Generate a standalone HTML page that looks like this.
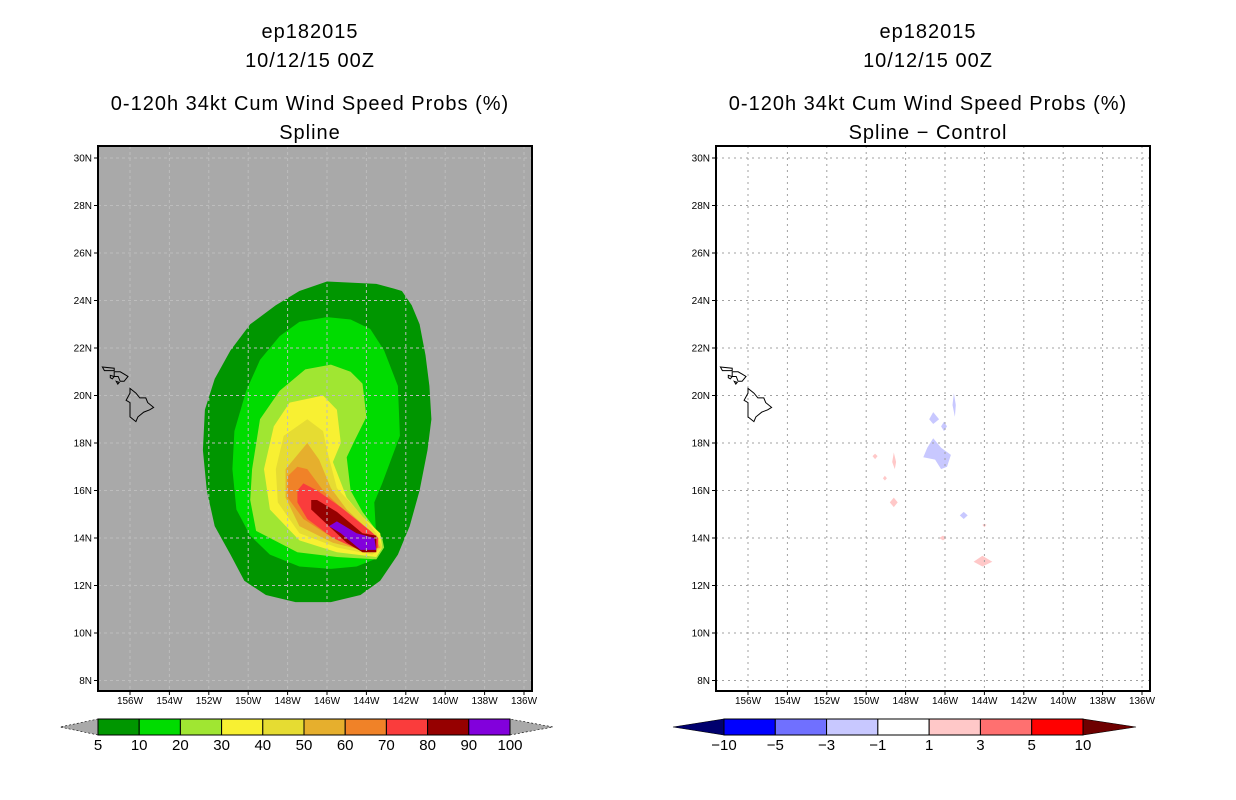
<!DOCTYPE html>
<html><head><meta charset="utf-8"><style>
html,body{margin:0;padding:0;background:#fff;}
svg{display:block;font-family:"Liberation Sans",sans-serif;}
</style></head><body>
<svg id="root" width="1236" height="800" viewBox="0 0 1236 800">
<rect x="0" y="0" width="1236" height="800" fill="#fff"/>
</svg>
<script>
const levels=[5,10,20,30,40,50,60,70,80,90,100];
const levelColors=["#009600","#00dc00","#a0e632","#f8f032","#e6dc32","#e6af2d","#f08228","#fa3c3c","#960000","#8200dc"];
const diffLabels=["-10","-5","-3","-1","1","3","5","10"];
const diffColors=["#0000ff","#7070ff","#c8c8ff","#ffffff","#ffc8c8","#ff7070","#ff0000"];
const latTicks=[8,10,12,14,16,18,20,22,24,26,28,30];
const lonTicks=[156,154,152,150,148,146,144,142,140,138,136];
// probability contours [lonW,latN]
const p5=[[146.0,24.8],[143.5,24.7],[142.6,24.5],[142.2,24.4],[141.7,23.8],[141.3,23.0],[141.0,21.7],[140.8,20.4],[140.7,19.0],[140.9,17.7],[141.3,16.0],[141.8,14.5],[142.4,13.3],[143.3,12.2],[144.3,11.6],[145.8,11.3],[147.6,11.3],[149.1,11.6],[150.2,12.2],[150.9,13.3],[151.7,14.5],[152.1,16.0],[152.3,17.7],[152.2,19.4],[151.7,20.7],[150.9,21.9],[149.9,23.0],[148.6,23.8],[147.4,24.4]];
const p10=[[146.0,23.3],[144.8,23.2],[143.8,22.8],[143.1,21.9],[142.4,20.4],[142.3,18.3],[143.2,16.3],[143.6,15.5],[143.5,14.0],[143.2,13.6],[143.6,13.1],[144.5,12.8],[145.8,12.7],[147.4,12.8],[148.9,13.3],[149.9,14.1],[150.6,15.2],[150.8,16.9],[150.7,18.5],[150.1,20.2],[149.4,21.5],[148.4,22.5],[147.4,23.1]];
const p20=[[145.8,21.3],[144.8,21.0],[144.2,20.5],[144.0,19.1],[144.6,18.1],[145.0,17.4],[144.8,16.0],[144.2,15.1],[143.2,14.0],[143.1,13.6],[143.5,13.1],[145.5,13.2],[147.5,13.4],[149.6,14.3],[149.9,15.6],[149.8,16.9],[149.4,19.0],[148.4,20.2],[147.1,21.1]];
const p30=[[146.2,20.0],[145.5,19.4],[145.3,18.0],[145.7,17.2],[145.0,15.7],[144.2,14.9],[143.3,14.2],[143.2,13.6],[143.5,13.2],[145.5,13.4],[147.4,13.9],[148.9,15.2],[149.2,16.9],[148.7,18.7],[147.9,19.7]];
const p40=[[147.0,19.0],[146.2,18.5],[146.0,17.7],[145.5,16.1],[144.5,15.2],[143.5,14.2],[143.2,13.6],[143.7,13.3],[145.5,13.6],[147.4,14.2],[148.5,15.5],[148.6,16.9],[148.2,18.3]];
const p50=[[147.0,18.0],[146.4,17.3],[145.8,16.1],[145.0,15.2],[143.7,14.2],[143.3,13.6],[143.8,13.4],[145.7,13.8],[147.4,14.5],[148.1,15.7],[148.1,16.9]];
const p60=[[147.5,17.0],[147.0,16.9],[146.2,16.0],[145.2,15.2],[143.7,14.2],[143.4,13.6],[144.0,13.4],[145.7,14.0],[147.2,14.8],[148.0,15.7],[148.0,16.6]];
const p70=[[147.2,16.3],[146.5,16.0],[145.3,15.3],[143.8,14.3],[143.4,14.0],[143.4,13.6],[144.1,13.4],[145.7,14.0],[147.0,14.8],[147.5,15.5],[147.5,16.0]];
const p80=[[146.8,15.6],[146.5,15.6],[145.5,15.1],[144.2,14.2],[143.5,14.1],[143.5,13.4],[144.2,13.4],[145.0,13.8],[146.8,15.2]];
const p90=[[145.9,14.5],[145.5,14.7],[144.5,14.2],[143.6,14.0],[143.5,13.5],[144.3,13.5],[145.3,14.2]];
const probContours=[p5,p10,p20,p30,p40,p50,p60,p70,p80,p90];
// difference blobs
const negBlobs=[
 [[146.6,18.2],[146.2,17.8],[145.7,17.5],[145.9,17.0],[146.2,16.9],[146.5,17.3],[147.1,17.4],[146.9,17.8]],
 [[146.6,19.3],[146.3,19.0],[146.6,18.8],[146.8,19.0]],
 [[146.05,18.9],[145.9,18.7],[146.05,18.5],[146.2,18.7]],
 [[145.55,20.1],[145.45,19.6],[145.5,19.1],[145.62,19.6]],
 [[145.05,15.1],[144.85,14.95],[145.05,14.8],[145.25,14.95]]];
const posBlobs=[
 [[149.55,17.55],[149.42,17.45],[149.55,17.32],[149.68,17.45]],
 [[148.6,17.6],[148.48,17.2],[148.55,16.9],[148.68,17.2]],
 [[149.05,16.62],[148.95,16.52],[149.05,16.42],[149.15,16.52]],
 [[148.6,15.7],[148.4,15.5],[148.6,15.3],[148.8,15.5]],
 [[146.1,14.1],[145.92,14.0],[146.1,13.9],[146.3,14.0]],
 [[144.0,14.6],[143.9,14.55],[144.0,14.45],[144.1,14.55]],
 [[144.1,13.25],[143.6,13.0],[144.1,12.8],[144.55,13.0]]];
const bigIsland=[[156.0,20.3],[155.7,20.1],[155.5,19.9],[155.2,19.9],[155.1,19.7],[154.8,19.5],[155.0,19.4],[155.3,19.3],[155.6,19.1],[155.7,18.9],[156.0,19.1],[156.0,19.7],[156.2,19.8],[156.0,20.1]];
const maui=[[156.8,21.0],[156.5,21.0],[156.3,20.9],[156.1,20.8],[156.3,20.6],[156.5,20.6],[156.6,20.8],[156.8,20.8]];
const molokai=[[157.4,21.2],[156.8,21.15],[156.8,21.05],[157.3,21.05]];
const lanai=[[157.0,20.85],[156.8,20.8],[156.9,20.7],[157.0,20.75]];
const kahoolawe=[[156.7,20.6],[156.55,20.55],[156.62,20.48]];
const islands=[bigIsland,maui,molokai,lanai,kahoolawe];

const NS="http://www.w3.org/2000/svg";
const root=document.getElementById('root');
function mk(tag,attrs,parent){const e=document.createElementNS(NS,tag);for(const k in attrs)e.setAttribute(k,attrs[k]);(parent||root).appendChild(e);return e;}
const frameTop=146,frameBot=691,frameW=434;
function yOf(lat){return 158+(30-lat)*23.75;}
function makeX(off){return lon=>off+327+(146-lon)*19.7;}
function pts(poly,xf){return poly.map(p=>xf(p[0]).toFixed(1)+","+yOf(p[1]).toFixed(1)).join(" ");}

function panel(off,left,name){
 const xf=makeX(off);const x0=98+off;
 const g=mk('g',{});
 
 
 const bg=mk('rect',{x:x0,y:frameTop,width:frameW,height:frameBot-frameTop,fill:left?'#a9a9a9':'#fff'},g);
 
 
 if(left){
  probContours.forEach((poly,i)=>{const p=mk('polygon',{points:pts(poly,xf),fill:levelColors[i]},g);
   
   });
 } else {
  negBlobs.forEach(poly=>{const p=mk('polygon',{points:pts(poly,xf),fill:'#c8c8ff'},g);
   
   });
  posBlobs.forEach(poly=>{const p=mk('polygon',{points:pts(poly,xf),fill:'#ffc8c8'},g);
   
   });
 }
 const gc=left?'#bdbdbd':'#a0a0a0';const da=left?'3,3':'2,4';
 latTicks.forEach(l=>{const y=yOf(l);
  const gl=mk('line',{x1:x0,x2:x0+frameW,y1:y,y2:y,stroke:gc,'stroke-width':1,'stroke-dasharray':da},g);
  
  
  mk('line',{x1:x0-4,x2:x0,y1:y,y2:y,stroke:'#000','stroke-width':1},g);
  const t=mk('text',{x:x0-6,y:y+3.5,'font-size':10,'text-anchor':'end',fill:'#000'},g);t.textContent=l+'N';
  
  });
 lonTicks.forEach(l=>{const x=xf(l);
  const gl=mk('line',{x1:x,x2:x,y1:frameTop,y2:frameBot,stroke:gc,'stroke-width':1,'stroke-dasharray':da},g);
  
  
  mk('line',{x1:x,x2:x,y1:frameBot,y2:frameBot+4,stroke:'#000','stroke-width':1},g);
  const t=mk('text',{x:x,y:frameBot+13,'font-size':10,'text-anchor':'middle',fill:'#000'},g);t.textContent=l+'W';
  
  });
 islands.forEach(poly=>{const p=mk('polygon',{points:pts(poly,xf),fill:'none',stroke:'#000','stroke-width':1},g);
  
  });
 const fr=mk('rect',{x:x0,y:frameTop,width:frameW,height:frameBot-frameTop,fill:'none',stroke:'#000','stroke-width':2},g);
 
 
}
panel(0,true,'spline-probability-map');
panel(618,false,'spline-minus-control-map');

function titles(cx,sub,name){
 const lines=[['ep182015',38],['10/12/15 00Z',67],['0-120h 34kt Cum Wind Speed Probs (%)',110],[sub,139]];
 lines.forEach((l,i)=>{const t=mk('text',{x:cx,y:l[1],'font-size':20,'text-anchor':'middle',fill:'#000','letter-spacing':'1'});
  t.textContent=l[0];
  
  });
}
titles(310,'Spline','left');
titles(928,'Spline \u2212 Control','right');

// left colorbar
(function(){const x0=98,x1=510,y0=719,y1=735,w=(x1-x0)/levelColors.length;
 const lt=mk('polygon',{points:`${x0},${y0} ${x0},${y1} 60,${(y0+y1)/2}`,fill:'#a9a9a9',stroke:'#000','stroke-width':0.6,'stroke-dasharray':'2,2'});
 
 const rt=mk('polygon',{points:`${x1},${y0} ${x1},${y1} 553,${(y0+y1)/2}`,fill:'#a9a9a9',stroke:'#000','stroke-width':0.6,'stroke-dasharray':'2,2'});
 
 levelColors.forEach((c,i)=>{const r=mk('rect',{x:x0+i*w,y:y0,width:w,height:y1-y0,fill:c,stroke:'#000','stroke-width':1});
  });
 levels.forEach((v,i)=>{const t=mk('text',{x:x0+i*w,y:750,'font-size':15,'text-anchor':'middle',fill:'#000'});t.textContent=v;
  });
})();
// right colorbar
(function(){const x0=724,x1=1083,y0=719,y1=735,w=(x1-x0)/diffColors.length;
 const lt=mk('polygon',{points:`${x0},${y0} ${x0},${y1} 673,${(y0+y1)/2}`,fill:'#00006e',stroke:'#000','stroke-width':0.6});
 
 const rt=mk('polygon',{points:`${x1},${y0} ${x1},${y1} 1136,${(y0+y1)/2}`,fill:'#6e0000',stroke:'#000','stroke-width':0.6});
 
 diffColors.forEach((c,i)=>{const r=mk('rect',{x:x0+i*w,y:y0,width:w,height:y1-y0,fill:c,stroke:'#000','stroke-width':1});
  });
 diffLabels.forEach((v,i)=>{const t=mk('text',{x:x0+i*w,y:750,'font-size':15,'text-anchor':'middle',fill:'#000'});t.textContent=v.replace('-','\u2212');
  });
})();
</script>
</body></html>
